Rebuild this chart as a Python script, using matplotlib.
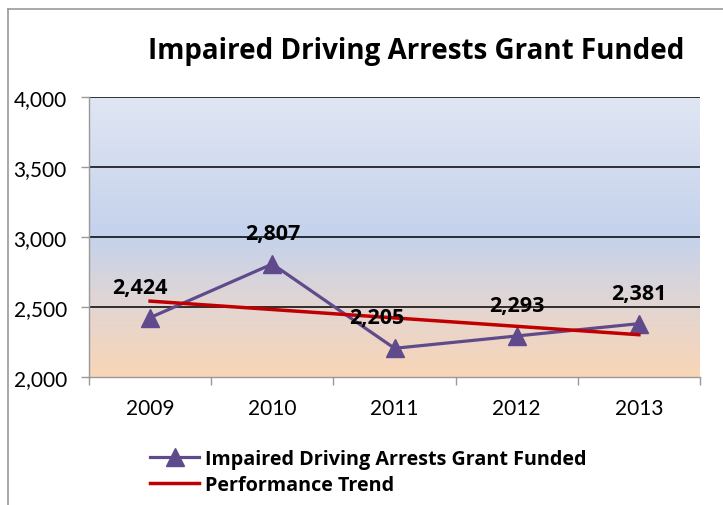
import numpy as np
import matplotlib
matplotlib.use("Agg")
import matplotlib.pyplot as plt
import matplotlib.ticker as mticker
from matplotlib.colors import LinearSegmentedColormap
from matplotlib.lines import Line2D

years = ["2009", "2010", "2011", "2012", "2013"]
arrests = [2424, 2807, 2205, 2293, 2381]
trend = [2542, 2482, 2422, 2362, 2302]

plt.rcParams["font.family"] = ["Lato", "DejaVu Sans"]
BOLD = ["Open Sans", "DejaVu Sans"]

fig = plt.figure(figsize=(7.23, 5.06), dpi=100)
ax = fig.add_axes([89 / 723, 1 - 378 / 506, 611 / 723, 280 / 506])

# gradient background (bottom -> top)
bg = LinearSegmentedColormap.from_list(
    "bg", [(0.0, "#f9d5b6"), (0.25, "#e3d6d2"), (0.5, "#c4d2ec"), (1.0, "#e0e6f3")]
)
x = np.arange(len(years))
ax.imshow(
    np.linspace(0, 1, 256).reshape(-1, 1),
    cmap=bg,
    aspect="auto",
    origin="lower",
    extent=(-0.5, len(years) - 0.5, 2000, 4000),
    zorder=0,
)

ax.set_xlim(-0.5, len(years) - 0.5)
ax.set_ylim(2000, 4000)
for v in [2500, 3000, 3500, 4000]:
    ax.axhline(v, color="black", linewidth=1.1, zorder=1)

ax.plot(x, arrests, color="#5f4b8b", linewidth=2.3, marker="^", markersize=13,
        label="Impaired Driving Arrests Grant Funded", zorder=3)
ax.plot(x, trend, color="#c00000", linewidth=2.5, label="Performance Trend", zorder=4)

# data labels, a few nudged sideways like the original
dx = [-10, 0, -18, 0, 0]
for i, v in enumerate(arrests):
    ax.annotate(f"{v:,}", (x[i], v), xytext=(dx[i] * 0.72, 22), textcoords="offset points",
                ha="center", va="center", fontsize=15.5, fontweight="bold",
                family=BOLD, zorder=5)

ax.set_xticks(np.arange(len(years) + 1) - 0.5, minor=False)
ax.set_xticklabels([])
ax.set_xticks(x, minor=True)
ax.set_xticklabels(years, minor=True, fontsize=15)
ax.tick_params(axis="x", which="major", length=6, color="#999999", width=1)
ax.tick_params(axis="x", which="minor", length=0, pad=15)
ax.set_yticks([2000, 2500, 3000, 3500, 4000])
ax.yaxis.set_major_formatter(mticker.FuncFormatter(lambda v, p: f"{int(v):,}"))
ax.tick_params(axis="y", length=6, color="#999999", width=1, labelsize=15, pad=10)

for side in ["top", "right"]:
    ax.spines[side].set_visible(False)
for side in ["left", "bottom"]:
    ax.spines[side].set_color("#999999")
    ax.spines[side].set_linewidth(1)

fig.text(148 / 723, 1 - 52 / 506, "Impaired Driving Arrests Grant Funded",
         fontsize=20, fontweight="bold", family=BOLD, ha="left", va="center")

leg = fig.legend(loc="upper left", bbox_to_anchor=(150 / 723, 1 - 450 / 506),
                 frameon=False, prop={"size": 14.2, "weight": "bold", "family": BOLD},
                 handlelength=2.5, handletextpad=0.3, labelspacing=0.3,
                 borderaxespad=0, borderpad=0)

# outer chart border (partly cropped)
fig.add_artist(Line2D([8 / 723, 8 / 723], [0, 1 - 10 / 506], color="#999999", linewidth=1.2))
fig.add_artist(Line2D([8 / 723, 1], [1 - 10 / 506, 1 - 10 / 506], color="#999999", linewidth=1.2))

fig.savefig("out.png", dpi=100)
